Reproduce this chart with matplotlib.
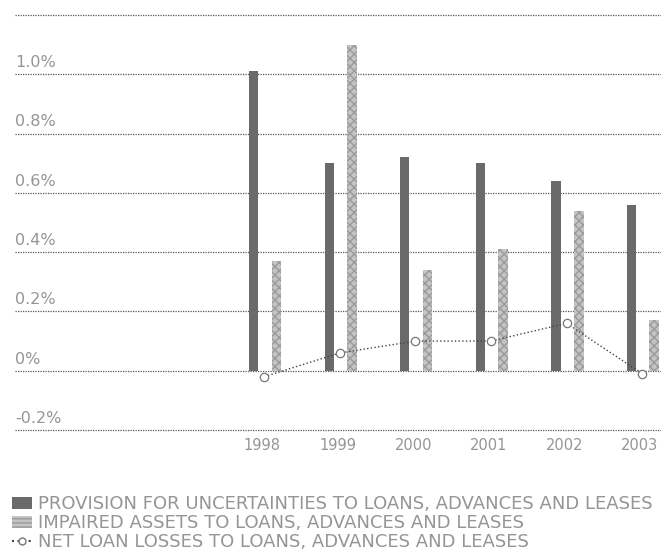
import matplotlib
matplotlib.use('Agg')
import matplotlib.pyplot as plt
from matplotlib.patches import Patch
from matplotlib.lines import Line2D
import numpy as np

years = ['1998', '1999', '2000', '2001', '2002', '2003']
provision = [1.01, 0.70, 0.72, 0.70, 0.64, 0.56]
impaired = [0.37, 1.10, 0.34, 0.41, 0.54, 0.17]
net_losses = [-0.02, 0.06, 0.10, 0.10, 0.16, -0.01]
ytick_vals = [-0.2, 0.0, 0.2, 0.4, 0.6, 0.8, 1.0]
ytick_labels = ['-0.2%', '0%', '0.2%', '0.4%', '0.6%', '0.8%', '1.0%']

labels = ['PROVISION FOR UNCERTAINTIES TO LOANS, ADVANCES AND LEASES',
          'IMPAIRED ASSETS TO LOANS, ADVANCES AND LEASES',
          'NET LOAN LOSSES TO LOANS, ADVANCES AND LEASES']

txt = '#959595'
dark = '#6a6a6a'
light = '#c4c4c4'

fig = plt.figure(figsize=(6.61, 5.59), dpi=100)
ax = fig.add_axes([15/661, 129/559, 646/661, 415/559])

x = np.arange(len(years))
ax.bar(x - 0.14, provision, width=0.12, color=dark, linewidth=0, zorder=3)
ax.bar(x + 0.16, impaired, width=0.13, color=light, hatch='xxxx',
       edgecolor='#9a9a9a', linewidth=0, zorder=3)
ax.plot(x, net_losses, ':', color='#444444', lw=1, marker='o', ms=6,
        mfc='white', mec='#777777', mew=0.9, zorder=4)

for v in np.arange(-0.2, 1.21, 0.2):
    ax.axhline(v, color='#555555', lw=0.9, ls=(0, (1, 1)), zorder=1, clip_on=False)

for v, s in zip(ytick_vals, ytick_labels):
    ax.annotate(s, xy=(0, v), xycoords=('axes fraction', 'data'),
                xytext=(0, 3), textcoords='offset points',
                ha='left', va='bottom', fontsize=11.5, color=txt)

ax.set_xlim(-3.3, 5.25)
ax.set_ylim(-0.2, 1.2)
ax.set_xticks(x - 0.03)
ax.set_xticklabels(years, fontsize=10.5, color=txt)
ax.tick_params(length=0, pad=6)
ax.set_yticks([])
for s in ax.spines.values():
    s.set_visible(False)

handles = [Patch(facecolor=dark, linewidth=0),
           Patch(facecolor=light, hatch='----', edgecolor='#9a9a9a', linewidth=0),
           Line2D([], [], ls=':', color='#444444', marker='o', ms=5,
                  mfc='white', mec='#777777')]
leg = fig.legend(handles, labels, loc='upper left', bbox_to_anchor=(0.005, 0.13),
                 frameon=False, fontsize=13, handlelength=1.1, handletextpad=0.3,
                 labelspacing=0.05, borderpad=0)
for t in leg.get_texts():
    t.set_color(txt)

fig.savefig('out.png', dpi=100)
